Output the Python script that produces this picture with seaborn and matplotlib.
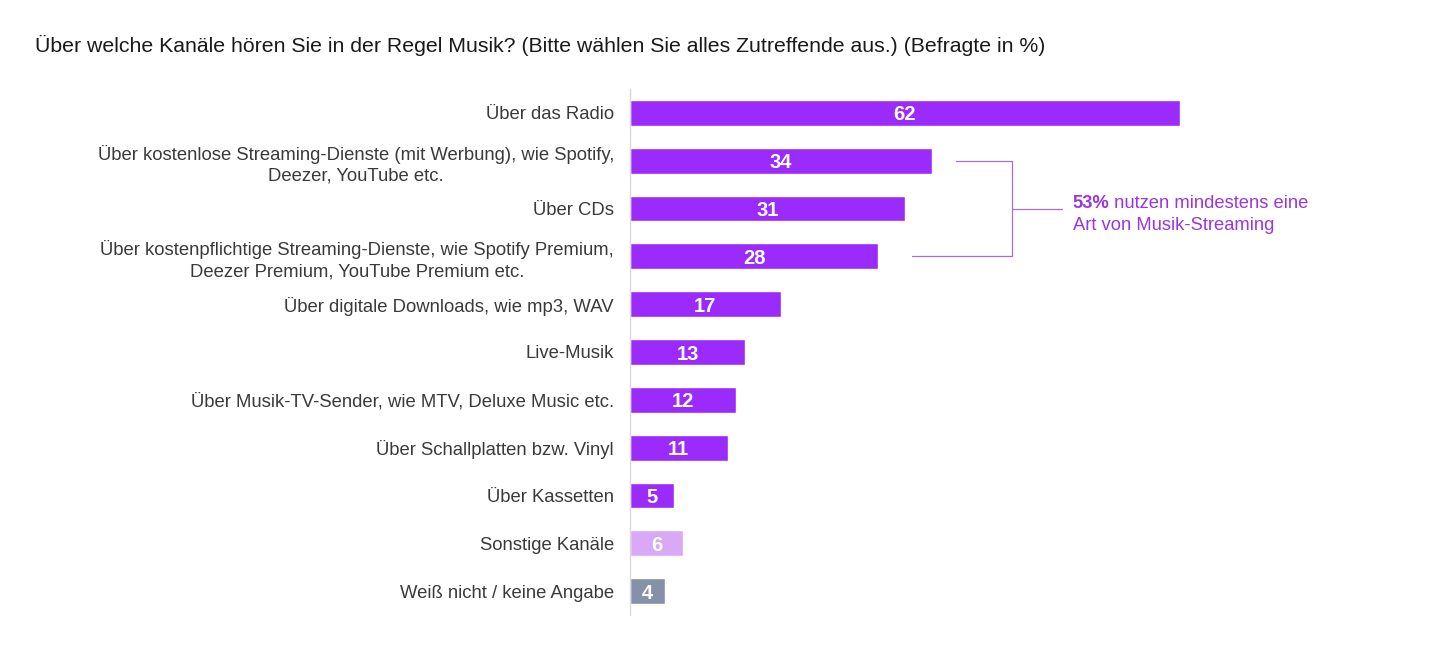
import pandas as pd
import seaborn as sns
import matplotlib.pyplot as plt

# Data
labels = [
    "Über das Radio",
    "Über kostenlose Streaming-Dienste (mit Werbung), wie Spotify,\nDeezer, YouTube etc.",
    "Über CDs",
    "Über kostenpflichtige Streaming-Dienste, wie Spotify Premium,\nDeezer Premium, YouTube Premium etc.",
    "Über digitale Downloads, wie mp3, WAV",
    "Live-Musik",
    "Über Musik-TV-Sender, wie MTV, Deluxe Music etc.",
    "Über Schallplatten bzw. Vinyl",
    "Über Kassetten",
    "Sonstige Kanäle",
    "Weiß nicht / keine Angabe",
]
values = [62, 34, 31, 28, 17, 13, 12, 11, 5, 6, 4]
groups = ["main"] * 9 + ["other", "unknown"]
streaming_share = 53

palette = {"main": "#9b2bfb", "other": "#d9a9f7", "unknown": "#8590a9"}
accent = "#9a35e0"

df = pd.DataFrame({"label": labels, "value": values, "group": groups})

sns.set_style("white")
plt.rcParams['font.family'] = ['Liberation Sans', 'DejaVu Sans']

fig = plt.figure(figsize=(14.4, 6.65), dpi=100)
ax = fig.add_axes([630 / 1440, 1 - 615 / 665, 810 / 1440, 526 / 665])

sns.barplot(data=df, y="label", x="value", hue="group", palette=palette,
            orient="h", dodge=False, width=0.54, legend=False, ax=ax,
            saturation=1)

ax.set_xlim(0, 810 / (550 / 62))
ax.set_ylim(10.5, -0.5)
ax.set_xlabel("")
ax.set_ylabel("")
ax.set_xticks([])
for s in ["top", "right", "bottom"]:
    ax.spines[s].set_visible(False)
ax.spines["left"].set_color("#d9d9de")
ax.spines["left"].set_linewidth(1)
ax.tick_params(axis="y", length=0, pad=11.5, labelsize=13.3, labelcolor="#3a3a3a")
for t in ax.get_yticklabels():
    t.set_multialignment("center")
    t.set_linespacing(1.3)

for c in ax.containers:
    for txt in ax.bar_label(c, label_type="center", color="white", fontsize=14.5,
                            fontweight="bold"):
        txt.set_va("center_baseline")

# bracket for streaming rows
i1, i2 = 1, 3
xr = 43.1
ax.plot([values[i1] + 2.7, xr, xr, values[i2] + 3.8], [i1, i1, i2, i2],
        color="#a56fd8", lw=0.9)
ax.plot([xr, 48.7], [(i1 + i2) / 2, (i1 + i2) / 2], color="#a56fd8", lw=0.9)

t1 = ax.text(49.9, (i1 + i2) / 2 - 0.02, f"{streaming_share}%", color=accent,
             fontsize=13.2, fontweight="bold", va="baseline")
ax.annotate(" nutzen mindestens eine", xy=(1, 0), xycoords=t1, va="bottom",
            color=accent, fontsize=13.2)
ax.text(49.9, (i1 + i2) / 2 + 0.44, "Art von Musik-Streaming", color=accent,
        fontsize=13.2, va="baseline")

fig.text(35 / 1440, 1 - 45 / 665, "Über welche Kanäle hören Sie in der Regel Musik? "
         "(Bitte wählen Sie alles Zutreffende aus.) (Befragte in %)",
         fontsize=15.3, color="#1a1a1a", va="center", ha="left")

fig.savefig("out.png", dpi=100)
